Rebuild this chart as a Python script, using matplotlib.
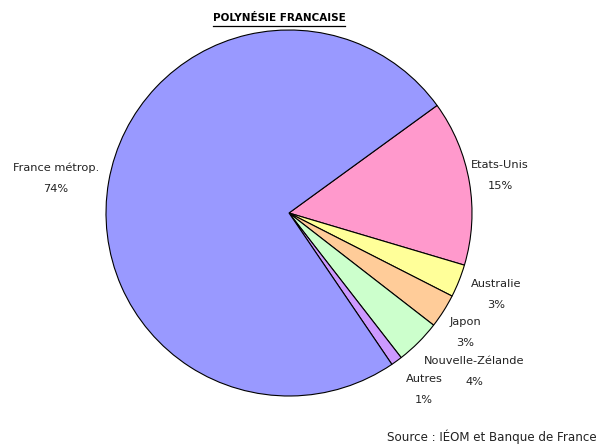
import matplotlib
matplotlib.use("Agg")
import matplotlib.pyplot as plt
from matplotlib.transforms import Bbox

categories = ["Etats-Unis", "Australie", "Japon", "Nouvelle-Zélande", "Autres", "France métrop."]
values = [14.6, 2.9, 3.0, 4.0, 1.0, 74.5]
pct_labels = ["15%", "3%", "3%", "4%", "1%", "74%"]
colors = ["#FF99CC", "#FFFF99", "#FFCC99", "#CCFFCC", "#CC99FF", "#9999FF"]
title = "POLYNÉSIE FRANCAISE"
source = "Source : IÉOM et Banque de France"

# label positions in pixels (x center, y of name line)
label_pos = [(500, 165), (496, 284), (465, 322), (474, 361), (424, 379), (56, 168)]

W, H = 604, 448
fig = plt.figure(figsize=(W / 100, H / 100), dpi=100)
cx, cy, r = 289, 213, 183
ax = fig.add_axes([(cx - r) / W, (H - cy - r) / H, 2 * r / W, 2 * r / H])
ax.pie(values, colors=colors, startangle=36, counterclock=False,
       wedgeprops=dict(edgecolor="black", linewidth=0.8))
ax.set_xlim(-1, 1)
ax.set_ylim(-1, 1)
ax.set_aspect("equal")
ax.axis("off")

fs = 8.2
clipbox = Bbox.from_extents(0, H - 402.5, W, H)
for name, pct, (x, y) in zip(categories, pct_labels, label_pos):
    t1 = fig.text(x / W, 1 - y / H, name, ha="center", va="center", fontsize=fs, color="#222222")
    t2 = fig.text(x / W, 1 - (y + 21) / H, pct, ha="center", va="center", fontsize=fs, color="#222222")
    for t in (t1, t2):
        t.set_clip_box(clipbox)
        t.set_clip_on(True)

fig.text(279 / W, 1 - 18 / H, title, ha="center", va="center", fontsize=7.5,
         fontweight="bold", color="black")
fig.add_artist(plt.Line2D([213 / W, 345 / W], [1 - 26.5 / H, 1 - 26.5 / H], color="black", linewidth=0.9))
fig.text(597 / W, 1 - 437 / H, source, ha="right", va="center", fontsize=8.6, color="#222222")

fig.savefig("out.png", dpi=100)
